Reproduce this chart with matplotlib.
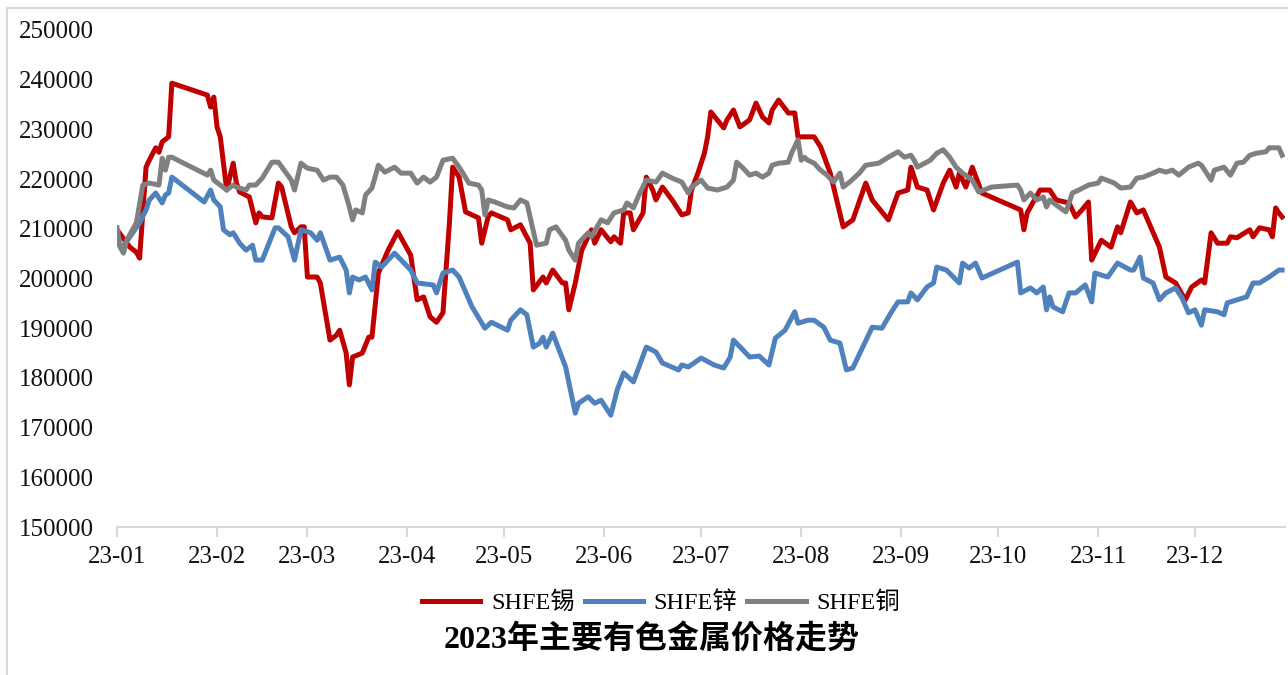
import numpy as np
import pandas as pd
import matplotlib
matplotlib.use('Agg')
import matplotlib.pyplot as plt
import matplotlib.dates as mdates
from matplotlib.lines import Line2D
from matplotlib.font_manager import FontProperties

# -------------------------------------------------------------------------
# data: day offset from 2023-01-01 and price (yuan/ton)

tin_day = [0, 4, 6, 7, 9, 10, 12, 13, 14, 16, 17, 28, 29, 30, 31, 32, 34, 36, 37, 38,
           41, 43, 44, 45, 48, 50, 51, 54, 55, 57, 58, 59, 62, 63, 66, 68, 69, 71, 72, 73,
           76, 78, 79, 81, 84, 87, 91, 93, 95, 97, 99, 101, 103, 104, 106, 108, 110, 112, 113, 115,
           116, 121, 122, 125, 128, 129, 132, 133, 135, 138, 139, 140, 142, 144, 147, 148, 150, 153, 154, 156,
           157, 159, 160, 163, 164, 166, 167, 169, 172, 175, 177, 178, 180, 182, 183, 184, 188, 189, 191, 193,
           196, 198, 200, 202, 203, 205, 208, 210, 211, 214, 216, 218, 221, 225, 228, 232, 234, 239, 242, 245,
           246, 248, 251, 253, 256, 258, 260, 261, 263, 265, 268, 280, 281, 282, 286, 289, 291, 295, 297, 299,
           301, 302, 305, 308, 310, 311, 314, 316, 318, 323, 325, 328, 331, 333, 336, 337, 339, 341, 344, 345,
           347, 351, 352, 354, 357, 358, 359, 360, 361]
tin_price = [209800, 206300, 205300, 204100, 222400, 223800, 226300, 225400, 227500, 228500, 239300, 236900, 234500, 236500, 230500, 228500, 217800, 223200, 219200, 217400,
             216400, 211200, 213200, 212400, 212200, 219200, 218400, 210400, 209200, 210400, 210400, 200300, 200300, 199100, 187600, 188600, 189600, 185000, 178600, 184200,
             185000, 188200, 188200, 201100, 205700, 209400, 204700, 195700, 196300, 192300, 191200, 193100, 211200, 222400, 220400, 213400, 212800, 212200, 207100, 212400,
             213200, 211800, 209800, 210800, 207100, 197700, 200300, 199100, 201700, 199100, 199100, 193700, 199100, 205700, 209800, 207100, 209800, 207400, 208400, 207100,
             213200, 213200, 209800, 213200, 220400, 217800, 215800, 218400, 215800, 212800, 213200, 217800, 221200, 225200, 228500, 233500, 230300, 231900, 233900, 230500,
             231900, 235300, 232500, 231300, 233900, 235900, 233300, 233300, 228500, 228500, 228500, 226500, 221200, 210400, 211800, 219200, 215800, 211800, 217200, 217800,
             222400, 218400, 217800, 213800, 219200, 221800, 218400, 221200, 218400, 222400, 217200, 213800, 209800, 213200, 217800, 217800, 215800, 215200, 212400, 213800,
             215400, 203700, 207700, 206300, 210400, 209200, 215400, 213200, 213800, 206300, 200300, 199100, 195700, 198300, 199700, 199100, 209200, 207100, 207100, 208400,
             208200, 209800, 208400, 210200, 209800, 208400, 214200, 213200, 212400]

zinc_day = [0, 2, 7, 9, 10, 12, 14, 15, 16, 17, 27, 29, 30, 32, 33, 35, 36, 38, 40, 42,
            43, 45, 49, 50, 53, 55, 57, 60, 62, 63, 66, 69, 71, 72, 73, 75, 77, 79, 80, 82,
            86, 91, 93, 98, 99, 101, 104, 106, 110, 114, 116, 121, 122, 125, 127, 129, 131, 132, 133, 135,
            137, 139, 142, 143, 146, 148, 150, 153, 155, 157, 160, 164, 167, 169, 174, 175, 177, 181, 185, 188,
            190, 191, 194, 196, 199, 202, 204, 207, 210, 211, 214, 216, 219, 221, 224, 226, 228, 234, 237, 240,
            242, 245, 246, 248, 251, 253, 254, 257, 261, 262, 264, 266, 268, 279, 280, 283, 285, 287, 288, 289,
            290, 293, 295, 297, 300, 302, 303, 307, 310, 314, 315, 317, 318, 321, 323, 325, 328, 330, 332, 334,
            336, 337, 341, 343, 344, 347, 350, 352, 354, 357, 360, 361]
zinc_price = [207000, 206500, 211200, 213800, 215800, 217200, 215200, 216800, 217200, 220400, 215400, 217800, 215800, 214400, 209800, 208800, 209200, 207100, 205700, 206700,
              203700, 203700, 210200, 210200, 208400, 203700, 209800, 209200, 207700, 209200, 203700, 204300, 201700, 197100, 200300, 199700, 200300, 197700, 203300, 202300,
              205100, 201700, 199100, 198700, 197100, 201100, 201700, 200300, 194300, 190000, 191200, 189600, 191600, 193700, 192700, 186200, 187000, 188200, 186200, 189000,
              185600, 182200, 172900, 174900, 176200, 174900, 175500, 172500, 177600, 181000, 179200, 186200, 185200, 183000, 181600, 182600, 182200, 184000, 182600, 182000,
              184200, 187600, 185600, 184200, 184400, 182600, 188000, 189600, 193300, 191000, 191600, 191600, 190200, 187600, 187000, 181600, 182000, 190200, 190000, 193300,
              195300, 195300, 197100, 195700, 198300, 199100, 202300, 201700, 199100, 203100, 202100, 203100, 200100, 203300, 197100, 198100, 197100, 198300, 193700, 196300,
              194300, 193300, 197100, 197100, 198700, 195300, 201100, 200300, 203100, 201700, 201700, 204300, 200100, 199100, 195700, 197100, 198100, 196100, 193100, 193700,
              190600, 193700, 193300, 192700, 195100, 195700, 196300, 199100, 199100, 200300, 201700, 201700]

copper_day = [0, 1, 2, 3, 6, 8, 10, 13, 14, 15, 16, 17, 28, 29, 30, 34, 36, 37, 40, 41,
              43, 45, 48, 50, 54, 55, 57, 59, 62, 64, 66, 68, 70, 72, 73, 74, 76, 77, 79, 81,
              83, 86, 88, 91, 93, 95, 97, 99, 101, 104, 106, 107, 109, 112, 113, 114, 115, 117, 121, 123,
              125, 127, 130, 133, 134, 136, 139, 140, 142, 143, 146, 147, 150, 152, 154, 157, 158, 160, 162, 164,
              167, 169, 172, 175, 177, 178, 181, 183, 186, 188, 189, 191, 192, 194, 196, 198, 200, 202, 203, 205,
              208, 209, 211, 212, 213, 214, 216, 218, 220, 222, 224, 225, 227, 230, 232, 236, 239, 242, 244, 246,
              247, 248, 252, 254, 256, 258, 260, 262, 265, 267, 271, 279, 280, 281, 283, 285, 287, 288, 289, 291,
              294, 295, 296, 298, 301, 304, 305, 309, 311, 314, 316, 318, 321, 323, 325, 327, 329, 332, 335, 336,
              339, 340, 343, 345, 347, 349, 351, 353, 356, 357, 360, 361]
copper_price = [210200, 206300, 205100, 207700, 211200, 218800, 219200, 218800, 224200, 221800, 224400, 224400, 220800, 221800, 219800, 217800, 218800, 218400, 217800, 218800,
                218800, 220200, 223400, 223400, 219800, 217800, 223200, 222200, 221800, 219800, 220400, 220400, 218800, 214400, 211800, 213800, 213200, 216800, 218200, 222800,
                221400, 222400, 221200, 221200, 219200, 220400, 219400, 220400, 223800, 224200, 222400, 221400, 219200, 218800, 217800, 212800, 215800, 215400, 214400, 214200,
                215800, 215200, 206700, 207100, 209800, 210400, 207700, 205700, 203700, 207100, 209200, 208400, 211800, 211200, 213200, 213800, 215200, 214200, 217200, 219800,
                219400, 221200, 220200, 219400, 217200, 218400, 219800, 218200, 217800, 218200, 218400, 219800, 223400, 222200, 220800, 221200, 220400, 221200, 222800, 223200,
                223400, 225200, 227900, 223800, 224400, 223800, 223200, 221800, 220800, 219400, 221200, 218400, 219400, 221200, 222800, 223200, 224400, 225500, 224400, 224800,
                223800, 222400, 223800, 225200, 225900, 224400, 222400, 221200, 219800, 217400, 218400, 218800, 217800, 215800, 217200, 215800, 216400, 214400, 215800, 214800,
                213400, 215200, 217200, 217800, 218800, 219200, 220200, 219200, 218200, 218400, 220200, 220400, 221200, 221800, 221400, 221800, 220800, 222400, 223200, 222800,
                219800, 221800, 222400, 220800, 223200, 223400, 224800, 225200, 225500, 226300, 226300, 224800]

series_names = ['SHFE锡', 'SHFE锌', 'SHFE铜']
title = '2023年主要有色金属价格走势'

# -------------------------------------------------------------------------

def to_dates(days):
    return pd.Timestamp('2023-01-01') + pd.to_timedelta(np.array(days), unit='D')


fig = plt.figure(figsize=(12.88, 6.75), dpi=100)
ax = fig.add_axes([117/1288, 1 - 527/675, (1285 - 117)/1288, (527 - 30)/675])

ax.plot(to_dates(tin_day), tin_price, color='#C00000', lw=3.6, label=series_names[0])
ax.plot(to_dates(zinc_day), zinc_price, color='#4F81BD', lw=3.6, label=series_names[1])
ax.plot(to_dates(copper_day), copper_price, color='#808080', lw=3.6, label=series_names[2])

ax.set_ylim(150000, 250000)
ax.set_yticks(np.arange(150000, 250001, 10000))
ax.set_xlim(pd.Timestamp('2023-01-01'), pd.Timestamp('2023-01-01') + pd.Timedelta(days=361.9))
ax.xaxis.set_major_locator(mdates.MonthLocator())
ax.xaxis.set_major_formatter(mdates.DateFormatter('%y-%m'))

for side in ['top', 'right', 'left']:
    ax.spines[side].set_visible(False)
ax.spines['bottom'].set_color('#d9d9d9')
ax.spines['bottom'].set_linewidth(1.5)

ax.tick_params(axis='x', length=7, width=1.5, color='#d9d9d9', pad=7)
ax.tick_params(axis='y', length=0, pad=17)
for lab in ax.get_xticklabels() + ax.get_yticklabels():
    lab.set_fontfamily('Liberation Serif')
    lab.set_fontsize(18)
    lab.set_color('#111111')

cjk = ['Liberation Serif', 'Noto Sans CJK SC']
fig.legend(loc='center', bbox_to_anchor=(661/1288, 1 - 603/675), ncol=3, frameon=False,
           prop=FontProperties(family=cjk, size=17.5), handlelength=2.4,
           handletextpad=0.45, columnspacing=0.4)

fig.text(652/1288, 1 - 640/675, title, ha='center', va='center',
         fontsize=23, fontweight='bold', family=cjk)

# light frame round the chart, cut by the picture edge on right and bottom
fig.add_artist(Line2D([7/1288, 7/1288], [0, 1 - 8/675], color='#d9d9d9', lw=1.5,
                      transform=fig.transFigure))
fig.add_artist(Line2D([7/1288, 1], [1 - 8/675, 1 - 8/675], color='#d9d9d9', lw=1.5,
                      transform=fig.transFigure))

fig.savefig('out.png', dpi=100)
